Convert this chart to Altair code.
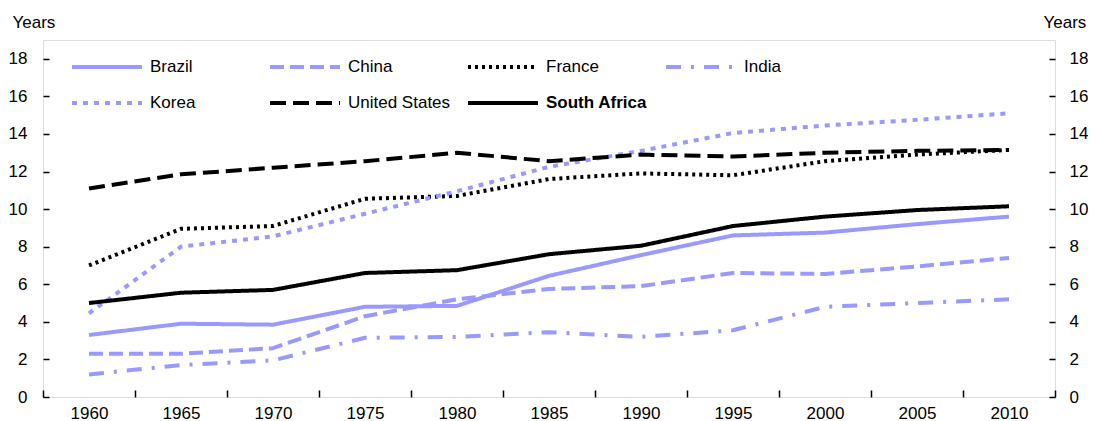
"""Years of schooling, selected countries, 1960-2010."""

import altair as alt
import pandas as pd

years = ["1960", "1965", "1970", "1975", "1980", "1985",
         "1990", "1995", "2000", "2005", "2010"]
countries = ["Brazil", "China", "France", "India", "Korea",
             "United States", "South Africa"]

brazil = [3.3, 3.9, 3.85, 4.8, 4.85, 6.45, 7.55, 8.6, 8.75, 9.2, 9.6]
china = [2.3, 2.3, 2.6, 4.3, 5.2, 5.75, 5.9, 6.6, 6.55, 6.95, 7.4]
france = [7.0, 8.95, 9.1, 10.55, 10.7, 11.6, 11.9, 11.8, 12.55, 12.9, 13.15]
india = [1.2, 1.7, 1.95, 3.15, 3.2, 3.45, 3.2, 3.55, 4.8, 5.0, 5.2]
korea = [4.45, 8.0, 8.55, 9.75, 10.95, 12.25, 13.1, 14.05, 14.45, 14.75, 15.1]
united_states = [11.1, 11.85, 12.2, 12.55, 13.0, 12.55, 12.9, 12.8, 13.0, 13.1, 13.15]
south_africa = [5.0, 5.55, 5.7, 6.6, 6.75, 7.6, 8.05, 9.1, 9.6, 9.95, 10.15]

series = [brazil, china, france, india, korea, united_states, south_africa]

purple = "#9999ff"
colors = [purple, purple, "black", purple, purple, "black", "black"]
dashes = [[1, 0], [14, 6], [3, 4], [15, 10, 3, 10], [5, 6],
          [16, 7], [1, 0]]
widths = [4, 4, 3, 4, 5, 4, 4]

rows = []
for name, values in zip(countries, series):
    for year, v in zip(years, values):
        rows.append({"country": name, "year": year, "value": v})
df = pd.DataFrame(rows)

FONT = "Liberation Sans"
y_scale = alt.Scale(domain=[0, 19], nice=False)
y_ticks = list(range(0, 19, 2))

legend = alt.Legend(
    title=None, orient="none", legendX=27, legendY=17, direction="horizontal",
    columns=4, gridAlign="all", columnPadding=15, rowPadding=16,
    symbolSize=4900, symbolType="stroke", clipHeight=20,
    labelFont=FONT, labelFontSize=17, labelColor="black",
    labelFontWeight=alt.ExprRef(
        "datum.label === 'South Africa' ? 'bold' : 'normal'"),
    labelOffset=6, labelLimit=300, padding=0,
)

x_enc = alt.X(
    "year:O",
    scale=alt.Scale(type="band", paddingInner=0, paddingOuter=0),
    bandPosition=0.5,
    axis=alt.Axis(title=None, labelAngle=0, tickBand="extent", domain=False,
                  offset=-7, tickSize=7, tickWidth=1.5, tickColor="black",
                  labelPadding=8, labelFont=FONT, labelFontSize=17,
                  labelColor="black"),
)

lines = alt.Chart(df).mark_line(strokeJoin="round").encode(
    x=x_enc,
    y=alt.Y("value:Q", scale=y_scale,
            axis=alt.Axis(values=y_ticks, domain=False, offset=-6, tickSize=6,
                          tickWidth=1.5, tickColor="black", grid=False,
                          labelPadding=16, labelFont=FONT, labelFontSize=17,
                          labelColor="black", title="Years", titleAngle=0,
                          titleAlign="left", titleBaseline="alphabetic",
                          titleX=-37, titleY=-13, titleFont=FONT,
                          titleFontSize=17, titleFontWeight="normal",
                          titleColor="black")),
    color=alt.Color("country:N", sort=countries,
                    scale=alt.Scale(domain=countries, range=colors),
                    legend=legend),
    strokeDash=alt.StrokeDash("country:N", sort=countries,
                              scale=alt.Scale(domain=countries, range=dashes),
                              legend=legend),
    strokeWidth=alt.StrokeWidth("country:N", sort=countries,
                                scale=alt.Scale(domain=countries, range=widths),
                                legend=legend),
    detail="country:N",
)

right = alt.Chart(df).mark_line(opacity=0).encode(
    x=x_enc,
    y=alt.Y("value:Q", scale=y_scale,
            axis=alt.Axis(orient="right", values=y_ticks, domain=False,
                          offset=-6, tickSize=6, tickWidth=1.5,
                          tickColor="black", grid=False, labelPadding=14,
                          labelFont=FONT, labelFontSize=17, labelColor="black",
                          title="Years", titleAngle=0, titleAlign="left",
                          titleBaseline="alphabetic", titleX=-6, titleY=-13,
                          titleFont=FONT, titleFontSize=17,
                          titleFontWeight="normal", titleColor="black")),
    detail="country:N",
)

chart = alt.layer(lines, right).resolve_scale(
    y="independent"
).properties(
    width=1012,
    height=357,
    autosize=alt.AutoSizeParams(type="none"),
    padding={"left": 35, "top": 32, "right": 33, "bottom": 24},
).configure_view(
    stroke="black",
    strokeWidth=2,
).configure(
    font=FONT,
)

chart.save("out.html", embed_options={"renderer": "svg", "actions": False})
